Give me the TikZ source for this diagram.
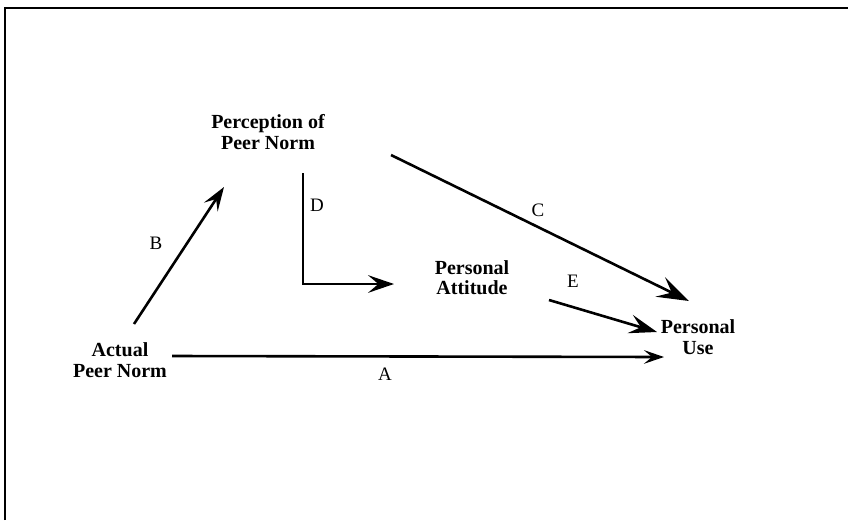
\documentclass[tikz,border=0pt]{standalone}
\usepackage{fontspec}
\setmainfont{Liberation Serif}
\usetikzlibrary{arrows.meta}
\begin{document}
\begin{tikzpicture}[x=1pt,y=-1pt,
  conn/.style={line width=2.6pt,-{Stealth[length=#1,width=0.68*#1,inset=0.4*#1]}},
  conn/.default=22pt,
  concept/.style={font=\fontsize{20}{21.5}\selectfont\bfseries,align=center,inner sep=0pt},
  lbl/.style={font=\fontsize{19}{20}\selectfont,inner sep=0pt}]
\useasboundingbox (0,0) rectangle (848,520);
\fill[white] (0,0) rectangle (848,520);
\draw[line width=2.6pt] (5,520) -- (5,8) -- (848,8);

\node[concept] (perc) at (268,132) {Perception of\\Peer Norm};
\node[concept,font=\fontsize{20}{20}\selectfont\bfseries] (att) at (472,278) {Personal\\Attitude};
\node[concept] (use) at (698,337) {Personal\\Use};
\node[concept] (act) at (120,360) {Actual\\Peer Norm};

\coordinate (bS) at (134,324);
\coordinate (bE) at (224,187);
\draw[conn=24pt] (bS) -- (bE);
\node[lbl] (lB) at (156,243) {B};

\coordinate (dT) at (303,173);
\coordinate (dC) at (303,284);
\coordinate (dE) at (394,284);
\draw[conn=26pt] (dT) -- (dC) -- (dE);
\node[lbl] (lD) at (317,205) {D};

\coordinate (cS) at (391,155);
\coordinate (cE) at (689,301);
\draw[conn=32pt] (cS) -- (cE);
\node[lbl] (lC) at (538,210) {C};

\coordinate (eS) at (549,300);
\coordinate (eE) at (657,332);
\draw[conn=28pt] (eS) -- (eE);
\node[lbl] (lE) at (573,281) {E};

\coordinate (aS) at (172,356);
\coordinate (aE) at (664,357);
\draw[conn=20pt] (aS) -- (aE);
\node[lbl] (lA) at (385,374) {A};
\end{tikzpicture}
\end{document}
